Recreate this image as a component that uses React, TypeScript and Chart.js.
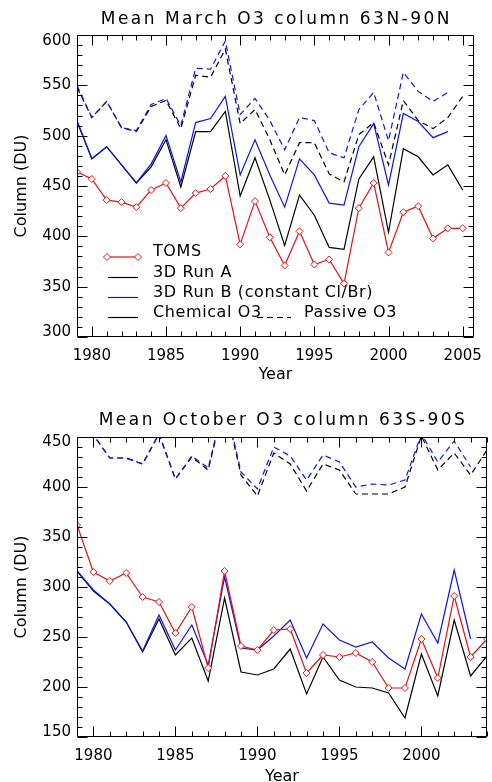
import React, { useEffect, useRef } from 'react';
import { Chart, registerables } from 'chart.js';

Chart.register(...registerables);

// ---------- DATA ----------
const marchYears = [1979, 1980, 1981, 1982, 1983, 1984, 1985, 1986, 1987, 1988, 1989, 1990, 1991, 1992, 1993, 1994, 1995, 1996, 1997, 1998, 1999, 2000, 2001, 2002, 2003, 2004, 2005];
const marchToms = [464, 457, 436, 434, 429, 446, 453, 428, 443, 447, 460, 392, 435, 399, 371, 405, 372, 377, 353, 428, 453, 384, 424, 430, 398, 408, 408];
const marchRunAChem = [514, 477, 489, 471, 453, 469, 496, 449, 504, 504, 524, 440, 478, 436, 391, 441, 421, 389, 387, 457, 479, 404, 487, 479, 461, 471, 446];
const marchRunBChem = [515, 477, 489, 471, 453, 472, 500, 454, 513, 517, 539, 461, 496, 461, 429, 477, 461, 433, 431, 489, 512, 451, 522, 514, 498, 504];
const marchRunAPassive = [548, 518, 534, 508, 504, 529, 535, 507, 560, 558, 586, 512, 526, 496, 461, 493, 493, 462, 454, 501, 513, 471, 535, 515, 507, 518, 539];
const marchRunBPassive = [550, 518, 534, 508, 505, 531, 537, 510, 567, 566, 594, 521, 537, 515, 486, 518, 515, 483, 478, 526, 543, 495, 563, 544, 534, 543];

const octYears = [1979, 1980, 1981, 1982, 1983, 1984, 1985, 1986, 1987, 1988, 1989, 1990, 1991, 1992, 1993, 1994, 1995, 1996, 1997, 1998, 1999, 2000, 2001, 2002, 2003, 2004];
const octToms = [362, 315, 306, 314, 290, 285, 254, 280, 219, 316, 241, 237, 257, 258, 214, 232, 230, 234, 225, 199, 199, 248, 209, 291, 230, 248];
const octRunAChem = [316, 296, 283, 265, 235, 268, 232, 249, 206, 289, 215, 212, 218, 238, 193, 230, 207, 200, 199, 194, 169, 233, 191, 267, 211, 231];
const octRunBChem = [316, 297, 283, 265, 236, 272, 237, 262, 222, 310, 239, 237, 251, 267, 229, 263, 247, 240, 245, 229, 218, 273, 244, 317, 248];
const octRunAPassive = [470, 452, 429, 429, 423, 453, 408, 430, 417, 485, 412, 391, 434, 423, 396, 423, 417, 393, 393, 393, 400, 451, 417, 434, 412, 437];
const octRunBPassive = [470, 452, 429, 429, 423, 453, 408, 431, 419, 487, 415, 398, 440, 431, 407, 432, 425, 400, 403, 402, 407, 453, 425, 446, 420];

const marchXTicks = [1980, 1985, 1990, 1995, 2000, 2005];
const octXTicks = [1980, 1985, 1990, 1995, 2000];
const marchYTicks = [300, 350, 400, 450, 500, 550, 600];
const octYTicks = [150, 200, 250, 300, 350, 400, 450];

const marchTitle = 'Mean March O3 column 63N-90N';
const octTitle = 'Mean October O3 column 63S-90S';
const xTitle = 'Year';
const yTitle = 'Column (DU)';
const legendLabels = ['TOMS', '3D Run A', '3D Run B (constant Cl/Br)', 'Chemical O3', 'Passive O3'];

// ---------- STYLE ----------
const FONT = '"DejaVu Sans", "Liberation Sans", sans-serif';
const RED = '#e01414';
const BLUE = '#1414e0';
const BLACK = '#000000';
const DASH = [6, 4];
const LW = 1.2;

const pts = (xs: number[], ys: number[]) => ys.map((y, i) => ({ x: xs[i], y }));

function diamond(ctx: CanvasRenderingContext2D, x: number, y: number, r: number) {
  ctx.beginPath();
  ctx.moveTo(x - r, y);
  ctx.lineTo(x, y - r);
  ctx.lineTo(x + r, y);
  ctx.lineTo(x, y + r);
  ctx.closePath();
  ctx.fillStyle = '#ffffff';
  ctx.fill();
  ctx.stroke();
}

const idlPlugin = {
  id: 'idl',
  beforeDraw(chart: any, _a: any, opts: any) {
    const ys = chart.scales.y;
    const items = ys.getLabelItems(chart.chartArea);
    if (items && items.length && !items.__shifted) {
      items.__shifted = true;
      items[0].options.translation[1] += opts.shiftLow;
      items[items.length - 1].options.translation[1] += opts.shiftHigh;
    }
  },
  afterDraw(chart: any, _a: any, opts: any) {
    const ctx: CanvasRenderingContext2D = chart.ctx;
    const { left, right, top, bottom } = chart.chartArea;
    const xs = chart.scales.x;
    const ys = chart.scales.y;
    ctx.save();
    ctx.strokeStyle = BLACK;
    ctx.lineWidth = 1;
    const L = Math.round(left) + 0.5;
    const R = Math.round(right) - 0.5;
    const T = Math.round(top) + 0.5;
    const B = Math.round(bottom) - 0.5;
    ctx.beginPath();
    ctx.rect(L, T, R - L, B - T);
    for (let yr = Math.ceil(xs.min); yr <= xs.max; yr++) {
      const px = Math.round(xs.getPixelForValue(yr)) + 0.5;
      const len = yr % 5 === 0 ? 10 : 5;
      ctx.moveTo(px, B);
      ctx.lineTo(px, B - len);
      ctx.moveTo(px, T);
      ctx.lineTo(px, T + len);
    }
    for (let v = ys.min; v <= ys.max; v += 10) {
      const py = Math.round(ys.getPixelForValue(v)) + 0.5;
      const len = v % 50 === 0 ? 10 : 5;
      ctx.moveTo(L, py);
      ctx.lineTo(L + len, py);
      ctx.moveTo(R, py);
      ctx.lineTo(R - len, py);
    }
    ctx.stroke();

    (ctx as any).letterSpacing = '2.5px';
    ctx.fillStyle = BLACK;
    ctx.font = `17px ${FONT}`;
    ctx.textAlign = 'center';
    ctx.textBaseline = 'middle';
    ctx.fillText(opts.title, (left + right) / 2 + 1, opts.titleY);

    if (opts.legend) {
      (ctx as any).letterSpacing = '0.6px';
      ctx.font = `16px ${FONT}`;
      ctx.textAlign = 'left';
      const tx = 153;
      const rows = [252, 272.5, 292.5, 313];
      ctx.lineWidth = LW;
      ctx.strokeStyle = RED;
      ctx.beginPath();
      ctx.moveTo(107, 257);
      ctx.lineTo(138, 257);
      ctx.stroke();
      ctx.lineWidth = 1;
      diamond(ctx, 107, 257, 3.5);
      diamond(ctx, 138, 257, 3.5);
      ctx.lineWidth = LW;
      ctx.fillStyle = BLACK;
      ctx.fillText(legendLabels[0], tx, rows[0]);
      ctx.strokeStyle = BLACK;
      ctx.beginPath();
      ctx.moveTo(108, 277.5);
      ctx.lineTo(138, 277.5);
      ctx.stroke();
      ctx.fillText(legendLabels[1], tx, rows[1]);
      ctx.strokeStyle = BLUE;
      ctx.beginPath();
      ctx.moveTo(108, 297.5);
      ctx.lineTo(138, 297.5);
      ctx.stroke();
      ctx.fillText(legendLabels[2], tx, rows[2]);
      ctx.strokeStyle = BLACK;
      ctx.beginPath();
      ctx.moveTo(108, 317.5);
      ctx.lineTo(138, 317.5);
      ctx.stroke();
      ctx.fillText(legendLabels[3], tx, rows[3]);
      ctx.setLineDash(DASH);
      ctx.beginPath();
      ctx.moveTo(257, 317.5);
      ctx.lineTo(291, 317.5);
      ctx.stroke();
      ctx.setLineDash([]);
      ctx.fillText(legendLabels[4], 304, rows[3]);
    }
    (ctx as any).letterSpacing = '0px';
    ctx.restore();
  },
};

interface PanelProps {
  years: number[];
  toms: number[];
  runAChem: number[];
  runBChem: number[];
  runAPassive: number[];
  runBPassive: number[];
  xTicks: number[];
  yTicks: number[];
  xMax: number;
  title: string;
  titleY: number;
  legend: boolean;
  height: number;
  top: number;
  right: number;
  bottom: number;
  xTitlePad: number;
  shiftLow: number;
  shiftHigh: number;
}

function Panel(p: PanelProps) {
  const ref = useRef<HTMLCanvasElement>(null);
  useEffect(() => {
    if (!ref.current) return;
    const W = 492;
    const chart = new Chart(ref.current, {
      type: 'line',
      data: {
        datasets: [
          {
            data: pts(p.years, p.toms),
            borderColor: RED,
            borderWidth: LW,
            pointStyle: 'rectRot',
            pointRadius: 3.5,
            pointBorderColor: RED,
            pointBackgroundColor: '#ffffff',
            pointBorderWidth: 1,
            tension: 0,
          },
          { data: pts(p.years, p.runBChem), borderColor: BLUE, borderWidth: LW, pointRadius: 0, tension: 0 },
          { data: pts(p.years, p.runAChem), borderColor: BLACK, borderWidth: LW, pointRadius: 0, tension: 0 },
          { data: pts(p.years, p.runBPassive), borderColor: BLUE, borderWidth: LW, borderDash: DASH, pointRadius: 0, tension: 0 },
          { data: pts(p.years, p.runAPassive), borderColor: BLACK, borderWidth: LW, borderDash: DASH, pointRadius: 0, tension: 0 },
        ] as any,
      },
      options: {
        animation: false,
        responsive: false,
        events: [],
        layout: { padding: { left: 0, right: W - p.right, top: p.top, bottom: 0 } },
        plugins: {
          legend: { display: false },
          tooltip: { enabled: false },
          title: { display: false },
          idl: { title: p.title, titleY: p.titleY, legend: p.legend, shiftLow: p.shiftLow, shiftHigh: p.shiftHigh },
        } as any,
        scales: {
          x: {
            type: 'linear',
            min: 1979,
            max: p.xMax,
            afterBuildTicks: (s: any) => {
              s.ticks = p.xTicks.map((v) => ({ value: v }));
            },
            afterFit: (s: any) => {
              s.height = p.height - p.bottom;
            },
            grid: { display: false, drawTicks: false },
            border: { display: false },
            ticks: {
              color: BLACK,
              font: { family: FONT, size: 15 },
              padding: 10,
              maxRotation: 0,
              autoSkip: false,
              callback: (v: any) => String(v),
            },
            title: {
              display: true,
              text: xTitle,
              color: BLACK,
              font: { family: FONT, size: 16 },
              padding: { top: 0, bottom: p.xTitlePad },
            },
          },
          y: {
            type: 'linear',
            min: p.yTicks[0],
            max: p.yTicks[p.yTicks.length - 1],
            afterBuildTicks: (s: any) => {
              s.ticks = p.yTicks.map((v) => ({ value: v }));
            },
            afterFit: (s: any) => {
              s.width = 77;
            },
            grid: { display: false, drawTicks: false },
            border: { display: false },
            ticks: {
              color: BLACK,
              font: { family: FONT, size: 15 },
              padding: 6,
              autoSkip: false,
              callback: (v: any) => String(v),
            },
            title: {
              display: true,
              text: yTitle,
              color: BLACK,
              font: { family: FONT, size: 16 },
              padding: { top: 12.4, bottom: 0 },
            },
          },
        },
      },
      plugins: [idlPlugin as any],
    });
    return () => chart.destroy();
  }, []);
  return <canvas ref={ref} width={492} height={p.height} style={{ display: 'block', width: 492, height: p.height }} />;
}

export default function App() {
  return (
    <div style={{ position: 'fixed', left: 0, top: 0, width: 492, height: 782, overflow: 'hidden', background: '#fff' }}>
      <Panel
        years={marchYears}
        toms={marchToms}
        runAChem={marchRunAChem}
        runBChem={marchRunBChem}
        runAPassive={marchRunAPassive}
        runBPassive={marchRunBPassive}
        xTicks={marchXTicks}
        yTicks={marchYTicks}
        xMax={2005.75}
        title={marchTitle}
        titleY={20}
        legend={true}
        height={391}
        top={35}
        right={484}
        bottom={337}
        xTitlePad={6.4}
        shiftLow={-5}
        shiftHigh={6}
      />
      <Panel
        years={octYears}
        toms={octToms}
        runAChem={octRunAChem}
        runBChem={octRunBChem}
        runAPassive={octRunAPassive}
        runBPassive={octRunBPassive}
        xTicks={octXTicks}
        yTicks={octYTicks}
        xMax={2004}
        title={octTitle}
        titleY={30}
        legend={false}
        height={400}
        top={46}
        right={487}
        bottom={346}
        xTitlePad={4.7}
        shiftLow={-5}
        shiftHigh={5}
      />
    </div>
  );
}
